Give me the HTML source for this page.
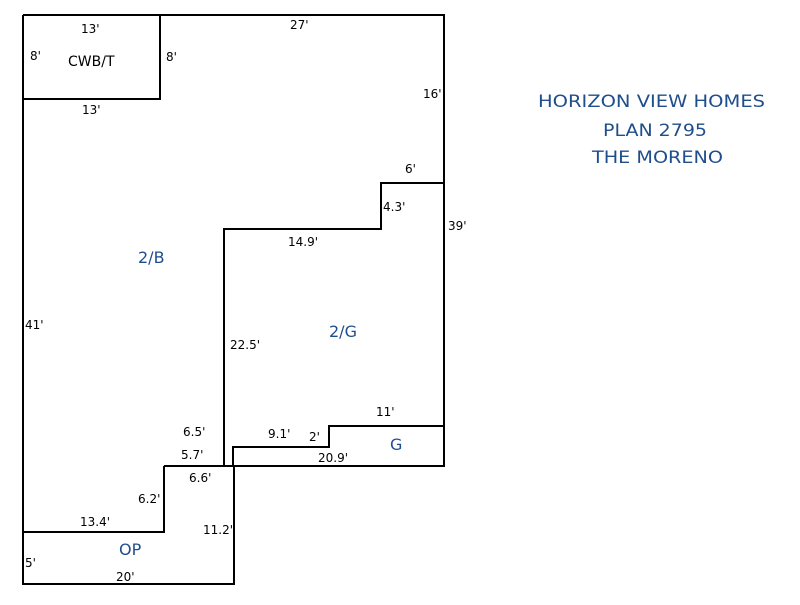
<!DOCTYPE html>
<html><head><meta charset="utf-8"><style>
body{margin:0;background:#fff}
svg text{font-family:"DejaVu Sans","Liberation Sans",sans-serif;font-size:12px;fill:#000}
svg text.b{fill:#1f4e8c;font-size:16px}
svg text.h{fill:#1f4e8c;font-size:17px}
</style></head><body>
<svg width="800" height="600" xmlns="http://www.w3.org/2000/svg">
<g fill="none" stroke="#000" stroke-width="2">
<polyline points="23,15 444,15 444,466 164,466"/>
<polyline points="23,15 23,584 234,584 234,466"/>
<polyline points="23,99 160,99 160,15"/>
<polyline points="224,466 224,229 381,229 381,183 444,183"/>
<polyline points="233,466 233,447 329,447 329,426 444,426"/>
<polyline points="23,532 164,532 164,466"/>
</g>
<text x="81" y="33">13'</text>
<text x="68" y="66" style="font-size:14px">CWB/T</text>
<text x="30" y="60">8'</text>
<text x="166" y="61">8'</text>
<text x="82" y="114">13'</text>
<text x="290" y="29">27'</text>
<text x="423" y="98">16'</text>
<text x="405" y="173">6'</text>
<text x="383" y="211">4.3'</text>
<text x="448" y="230">39'</text>
<text x="288" y="246">14.9'</text>
<text class="b" x="138" y="263">2/B</text>
<text class="b" x="329" y="337">2/G</text>
<text x="25" y="329">41'</text>
<text x="230" y="349">22.5'</text>
<text x="376" y="416">11'</text>
<text x="183" y="436">6.5'</text>
<text x="268" y="438">9.1'</text>
<text x="309" y="441">2'</text>
<text class="b" x="390" y="450">G</text>
<text x="181" y="459">5.7'</text>
<text x="318" y="462">20.9'</text>
<text x="189" y="482">6.6'</text>
<text x="138" y="503">6.2'</text>
<text x="80" y="526">13.4'</text>
<text x="203" y="534">11.2'</text>
<text class="b" x="119" y="555">OP</text>
<text x="25" y="567">5'</text>
<text x="116" y="581">20'</text>
<text class="h" x="538" y="107" textLength="227" lengthAdjust="spacingAndGlyphs">HORIZON VIEW HOMES</text>
<text class="h" x="603" y="136" textLength="104" lengthAdjust="spacingAndGlyphs">PLAN 2795</text>
<text class="h" x="592" y="163" textLength="131" lengthAdjust="spacingAndGlyphs">THE MORENO</text>
</svg>
</body></html>
